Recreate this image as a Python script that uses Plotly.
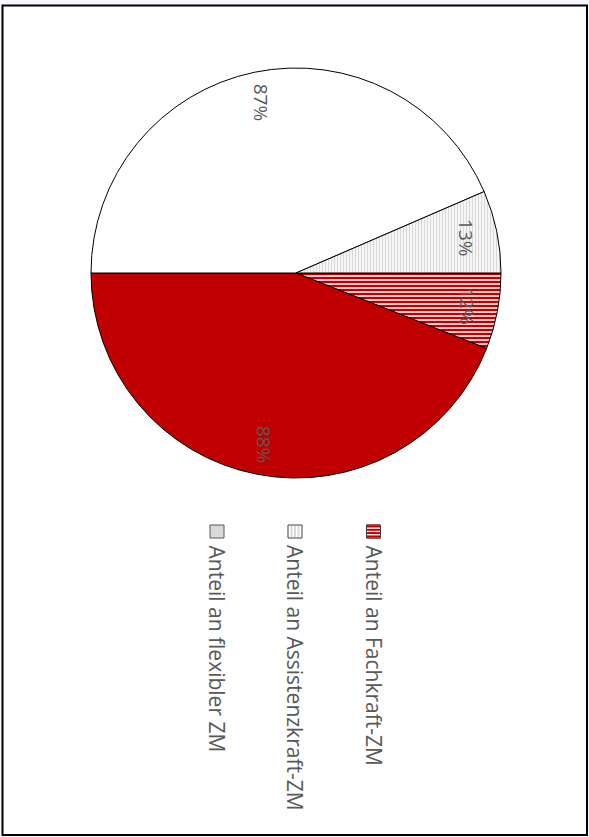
import math
import plotly.graph_objects as go

# ---- data ----
slice_names = ["Fachkraft-ZM (Anteil)", "Fachkraft-ZM (Rest)", "Assistenz/flex (Rest)", "Assistenzkraft-ZM (Anteil)"]
slice_values = [12, 88, 87, 13]
slice_labels = ["12%", "88%", "87%", "13%"]
legend_labels = ["Anteil an Fachkraft-ZM", "Anteil an Assistenzkraft-ZM", "Anteil an flexibler ZM"]

W, H = 589, 837
FONT = "Open Sans"
TXT = "#595959"
RED = "#c00000"
GRAY = "#d9d9d9"

# pie geometry (pixels)
cx, cy, R = 296, 273, 205

fig = go.Figure()
fig.add_trace(go.Pie(
    labels=slice_names,
    values=slice_values,
    sort=False,
    direction="clockwise",
    rotation=90,
    textinfo="none",
    hoverinfo="skip",
    showlegend=False,
    domain=dict(x=[(cx - R) / W, (cx + R) / W], y=[1 - (cy + R) / H, 1 - (cy - R) / H]),
    marker=dict(
        colors=["white", RED, "white", "white"],
        line=dict(color="black", width=1),
        pattern=dict(
            shape=["-", "", "", "|"],
            fgcolor=[RED, RED, "white", GRAY],
            bgcolor=["white", RED, "white", "white"],
            size=[4, 4, 4, 3],
            solidity=[0.6, 0.5, 0.5, 0.5],
            fillmode="replace",
        ),
    ),
))

# slice labels, rotated, placed at mid-angle of each slice
total = sum(slice_values)
cum = 0
annotations = []
for v, lab in zip(slice_values, slice_labels):
    mid = -(cum + v / 2) / total * 2 * math.pi
    cum += v
    r = 0.85 * R
    px = cx + r * math.cos(mid)
    py = cy - r * math.sin(mid)
    annotations.append(dict(
        x=px / W, y=1 - py / H, xref="paper", yref="paper",
        text=lab, showarrow=False, textangle=90,
        xanchor="center", yanchor="middle",
        font=dict(family=FONT, size=19, color=TXT),
    ))

# rotated legend
leg_x = [373.5, 295, 217]
mk_top, mk_bot, mk_half = 525, 538, 7
text_top = 543
shapes = [
    dict(type="rect", xref="paper", yref="paper",
         x0=2.5 / W, x1=587 / W, y0=1 - 835 / H, y1=1 - 5.5 / H,
         fillcolor="white", line=dict(color="black", width=2), layer="below"),
]
for i, (lx, lab) in enumerate(zip(leg_x, legend_labels)):
    annotations.append(dict(
        x=lx / W, y=1 - text_top / H, xref="paper", yref="paper",
        text=lab, showarrow=False, textangle=90,
        xanchor="center", yanchor="top",
        font=dict(family=FONT, size=21, color=TXT),
    ))
    x0, x1 = lx - mk_half, lx + mk_half
    if i == 0:
        shapes.append(dict(type="rect", xref="paper", yref="paper",
                           x0=x0 / W, x1=x1 / W, y0=1 - mk_bot / H, y1=1 - mk_top / H,
                           fillcolor="white", line=dict(color=RED, width=1)))
        for k in range(4):
            yy = mk_top + 1.5 + k * 3.3
            shapes.append(dict(type="line", xref="paper", yref="paper",
                               x0=x0 / W, x1=x1 / W, y0=1 - yy / H, y1=1 - yy / H,
                               line=dict(color=RED, width=2)))
        shapes.append(dict(type="rect", xref="paper", yref="paper",
                           x0=x0 / W, x1=x1 / W, y0=1 - mk_bot / H, y1=1 - mk_top / H,
                           fillcolor="rgba(0,0,0,0)", line=dict(color="#404040", width=1)))
    elif i == 1:
        shapes.append(dict(type="rect", xref="paper", yref="paper",
                           x0=x0 / W, x1=x1 / W, y0=1 - mk_bot / H, y1=1 - mk_top / H,
                           fillcolor="white", line=dict(color="#404040", width=1)))
        for k in range(3):
            xx = x0 + 3.5 + k * 3.5
            shapes.append(dict(type="line", xref="paper", yref="paper",
                               x0=xx / W, x1=xx / W, y0=1 - (mk_bot - 1) / H, y1=1 - (mk_top + 1) / H,
                               line=dict(color=GRAY, width=2)))
    else:
        shapes.append(dict(type="rect", xref="paper", yref="paper",
                           x0=x0 / W, x1=x1 / W, y0=1 - mk_bot / H, y1=1 - mk_top / H,
                           fillcolor=GRAY, line=dict(color="#595959", width=1)))

fig.update_layout(
    width=W, height=H,
    margin=dict(l=0, r=0, t=0, b=0),
    paper_bgcolor="#f5f7fc",
    plot_bgcolor="white",
    shapes=shapes,
    annotations=annotations,
    showlegend=False,
)

fig.write_html(
    "out.html",
    config={"displayModeBar": False},
    post_script="document.body.style.margin='0px';document.body.style.overflow='hidden';",
)
